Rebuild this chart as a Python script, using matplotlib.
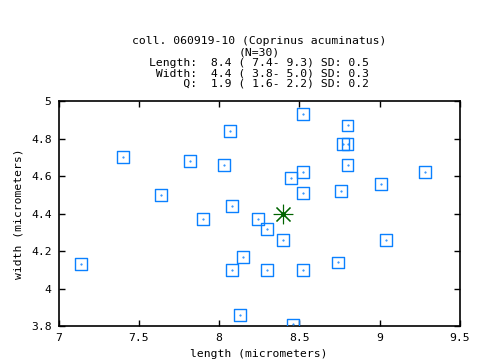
import matplotlib
matplotlib.use('Agg')
import matplotlib.pyplot as plt

# Sporenmaße (Länge, Breite) in Mikrometern
length = [8.07, 7.40, 7.82, 8.03, 7.64, 8.08, 7.90, 8.24, 8.52, 8.80,
          8.77, 8.80, 8.80, 8.52, 8.45, 8.52, 8.76, 9.01, 9.28, 7.14,
          8.15, 8.08, 8.30, 8.13, 8.30, 8.40, 9.04, 8.74, 8.52, 8.46]
width = [4.84, 4.70, 4.68, 4.66, 4.50, 4.44, 4.37, 4.37, 4.93, 4.87,
         4.77, 4.77, 4.66, 4.62, 4.59, 4.51, 4.52, 4.56, 4.62, 4.13,
         4.17, 4.10, 4.10, 3.86, 4.32, 4.26, 4.26, 4.14, 4.10, 3.81]
mean_length = 8.4
mean_width = 4.4

title_lines = [
    "coll. 060919-10 (Coprinus acuminatus)",
    "(N=30)",
    "Length:  8.4 ( 7.4- 9.3) SD: 0.5",
    " Width:  4.4 ( 3.8- 5.0) SD: 0.3",
    "     Q:  1.9 ( 1.6- 2.2) SD: 0.2",
]
xticks = [7, 7.5, 8, 8.5, 9, 9.5]
xticklabels = ['7', '7.5', '8', '8.5', '9', '9.5']
yticks = [3.8, 4, 4.2, 4.4, 4.6, 4.8, 5]
yticklabels = ['3.8', '4', '4.2', '4.4', '4.6', '4.8', '5']

mono = 'DejaVu Sans Mono'
fs = 8.2
blue = '#0a80ff'

fig = plt.figure(figsize=(4.8, 3.6), dpi=100)
ax = fig.add_axes([58.5 / 480, 1 - 326.3 / 360, (460 - 58.5) / 480, (326.3 - 101) / 360])

# Quadrate mit Punkt in der Mitte
ax.scatter(length, width, marker='s', s=72, facecolors='none', edgecolors=blue, linewidths=1.0, zorder=3)
ax.scatter(length, width, marker='.', s=1, color=blue, zorder=3)

# Mittelwert
ax.plot([mean_length], [mean_width], marker=(8, 2, 0), markersize=14, color='#006400',
        markeredgewidth=0.8, linestyle='none', zorder=4)
ax.plot([mean_length], [mean_width], marker='o', markersize=2.5, color='#006400',
        linestyle='none', zorder=4)

ax.set_xlim(7, 9.5)
ax.set_ylim(3.8, 5)
ax.set_xticks(xticks)
ax.set_xticklabels(xticklabels, family=mono, fontsize=fs)
ax.set_yticks(yticks)
ax.set_yticklabels(yticklabels, family=mono, fontsize=fs)
ax.tick_params(direction='in', top=True, right=True, length=4, width=1.0, pad=5)
for sp in ax.spines.values():
    sp.set_linewidth(1.2)

ax.set_xlabel('length (micrometers)', family=mono, fontsize=fs, labelpad=4)
ax.set_ylabel('width (micrometers)', family=mono, fontsize=fs, labelpad=5)

ys = [41.5, 52.3, 63.3, 73.3, 83.3]
for line, y in zip(title_lines, ys):
    fig.text(259 / 480, 1 - y / 360, line, family=mono, fontsize=fs, ha='center', va='center')

fig.savefig('out.png', dpi=100)
